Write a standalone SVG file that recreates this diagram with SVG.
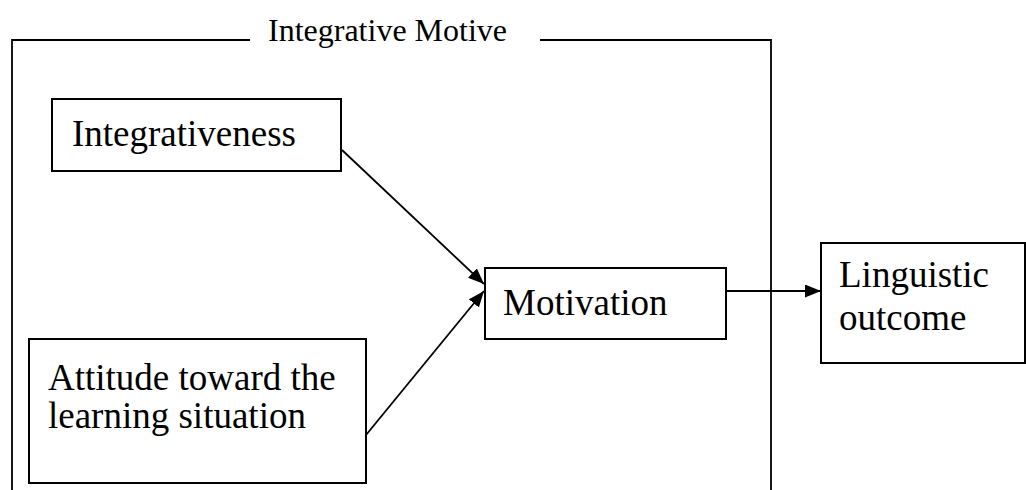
<svg xmlns="http://www.w3.org/2000/svg" width="1026" height="490" viewBox="0 0 1026 490">
<style>
.box{fill:#fff;stroke:#000;stroke-width:2}
.lbl{font-family:"Liberation Serif","Times New Roman",serif;font-size:37px;fill:#000}
.title{font-family:"Liberation Serif","Times New Roman",serif;font-size:32px;fill:#000}
.con{stroke:#000;stroke-width:1.8;fill:none}
</style>
<defs>
<marker id="arr" viewBox="0 0 16 13" refX="16" refY="6.5" markerWidth="16" markerHeight="13" markerUnits="userSpaceOnUse" orient="auto">
<path d="M0,0 L16,6.5 L0,13 Z" fill="#000"/>
</marker>
</defs>
<rect width="1026" height="490" fill="#fff"/>
<g id="frame">
<path class="con" d="M250,40 L12,40 L12,490"/>
<path class="con" d="M540,40 L771,40 L771,490"/>
<text class="title" x="268" y="41">Integrative Motive</text>
</g>
<g id="integrativeness">
<rect class="box" x="52" y="99" width="289" height="72"/>
<text class="lbl" x="72" y="146">Integrativeness</text>
</g>
<g id="attitude">
<rect class="box" x="29" y="339" width="337" height="144"/>
<text class="lbl" x="48" y="390">Attitude toward the</text>
<text class="lbl" x="48" y="428">learning situation</text>
</g>
<g id="motivation">
<rect class="box" x="485" y="268" width="241" height="71"/>
<text class="lbl" x="503" y="315">Motivation</text>
</g>
<g id="linguistic">
<rect class="box" x="821" y="243" width="204" height="120"/>
<text class="lbl" x="839" y="287">Linguistic</text>
<text class="lbl" x="839" y="330">outcome</text>
</g>
<g id="connectors">
<line class="con" x1="342" y1="150" x2="484" y2="284" marker-end="url(#arr)"/>
<line class="con" x1="366" y1="435" x2="484" y2="291" marker-end="url(#arr)"/>
<line class="con" x1="726" y1="291" x2="821" y2="291" marker-end="url(#arr)"/>
</g>
</svg>
